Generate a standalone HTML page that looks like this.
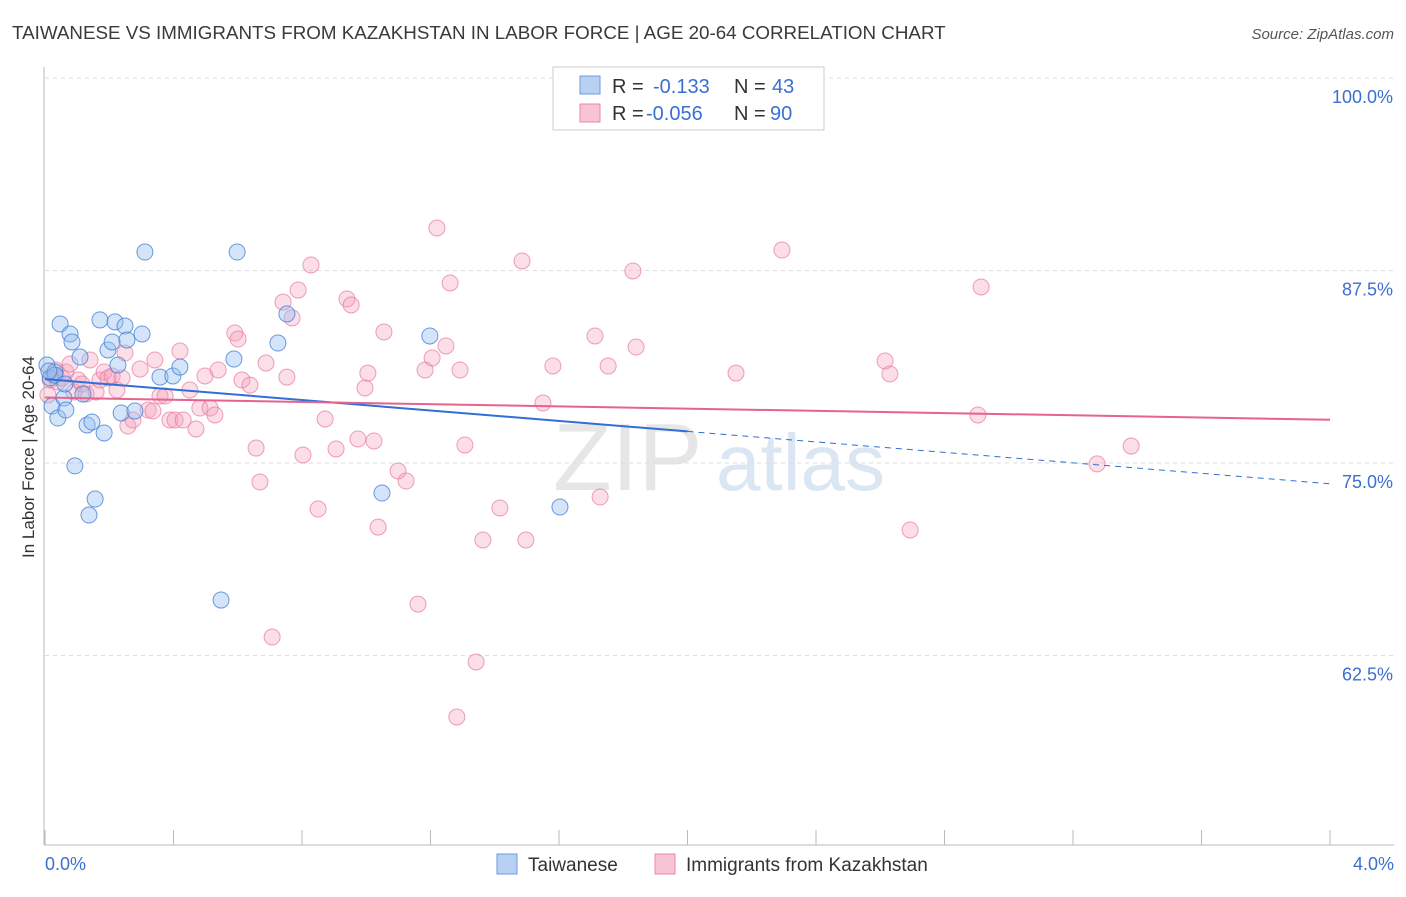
<!DOCTYPE html>
<html><head><meta charset="utf-8"><style>
body{margin:0;background:#fff;font-family:"Liberation Sans",sans-serif;}
svg text{font-family:"Liberation Sans",sans-serif;}
</style></head><body>
<svg id="c" width="1406" height="892">
<text x="12" y="39" font-size="18.8" fill="#3a3a3a">TAIWANESE VS IMMIGRANTS FROM KAZAKHSTAN IN LABOR FORCE | AGE 20-64 CORRELATION CHART</text>
<text x="1394" y="39" font-size="15" fill="#555" font-style="italic" text-anchor="end">Source: ZipAtlas.com</text>
<text x="553" y="490" font-size="96" fill="#e6e6e6" font-family="Liberation Serif">ZIP</text>
<text x="716" y="490" font-size="80" fill="#dbe6f3">atlas</text>
<g id="grid"></g>
<g id="axes"></g>
<g id="pts"></g>
<g id="trend"></g>
<text transform="translate(34,457) rotate(-90)" font-size="17" fill="#333" text-anchor="middle">In Labor Force | Age 20-64</text>
<text x="45" y="870" font-size="18" fill="#3b6fd1">0.0%</text>
<text x="1394" y="870" font-size="18" fill="#3b6fd1" text-anchor="end">4.0%</text>
<g>
<rect x="553" y="67" width="271" height="63" fill="#fff" stroke="#ccc"/>
<rect x="580" y="76" width="20" height="18" fill="#b8d1f3" stroke="#6b9be0"/>
<rect x="580" y="104" width="20" height="18" fill="#f8c3d4" stroke="#e98aa8"/>
<text x="612" y="93" font-size="20" fill="#333">R = </text><text x="653" y="93" font-size="20" fill="#3b6fd1">-0.133</text>
<text x="734" y="93" font-size="20" fill="#333">N = </text><text x="772" y="93" font-size="20" fill="#3b6fd1">43</text>
<text x="612" y="120" font-size="20" fill="#333">R = </text><text x="646" y="120" font-size="20" fill="#3b6fd1">-0.056</text>
<text x="734" y="120" font-size="20" fill="#333">N = </text><text x="770" y="120" font-size="20" fill="#3b6fd1">90</text>
</g>
<g>
<rect x="497" y="854" width="20" height="20" fill="#b8d1f3" stroke="#6b9be0"/>
<text x="528" y="871" font-size="19" fill="#333">Taiwanese</text>
<rect x="655" y="854" width="20" height="20" fill="#f8c3d4" stroke="#e98aa8"/>
<text x="686" y="871" font-size="19" fill="#333">Immigrants from Kazakhstan</text>
</g>
</svg>
<script>
const yTicks=[100,87.5,75,62.5];
const yTickLabels=["100.0%","87.5%","75.0%","62.5%"];
const xTicks=[0,0.4,0.8,1.2,1.6,2.0,2.4,2.8,3.2,3.6,4.0];
const taiwaneseX=[47,50,52,55,60,58,64,66,70,72,75,80,83,87,89,92,95,100,104,108,112,115,118,121,125,127,135,142,145,160,173,180,221,234,237,278,287,382,430,560,55,65,49].map(p=>+((p-45)/321.25).toFixed(3));
const taiwaneseY=[365,378,406,372,324,418,398,410,334,342,466,357,394,425,515,422,499,320,433,350,342,322,365,413,326,340,411,334,252,377,376,367,600,359,252,343,314,493,336,507,375,384,371].map(p=>+(100-(p-78)/15.4).toFixed(2));
const kazX=[48,50,53,56,58,62,66,70,74,78,82,86,90,96,100,104,108,112,117,122,125,128,133,140,148,153,155,160,165,170,175,180,183,190,196,200,205,210,215,218,235,238,242,250,256,260,266,272,283,287,292,298,303,311,318,325,336,347,351,358,365,368,374,378,384,398,406,418,425,432,437,446,450,457,460,465,476,483,500,522,526,543,553,595,600,608,633,636,736,782,885,890,910,978,981,1097,1131].map(p=>+((p-45)/321.25).toFixed(3));
const kazY=[395,380,375,370,382,378,372,364,392,380,384,394,360,392,380,372,378,376,390,378,353,426,420,369,410,411,360,396,396,420,420,351,420,390,429,408,376,408,415,370,333,339,380,385,448,482,363,637,302,377,318,290,455,265,509,419,449,299,305,439,388,373,441,527,332,471,481,604,370,358,228,346,283,717,370,445,662,540,508,261,540,403,366,336,497,366,271,347,373,250,361,374,530,415,287,464,446].map(p=>+(100-(p-78)/15.4).toFixed(2));
const trendBlue=[80.45,-1.7]; // intercept, slope per %
const trendPink=[79.25,-0.36];
const X=v=>45+v*321.25, Y=v=>78+(100-v)*15.4;
const NS="http://www.w3.org/2000/svg";
function mk(tag,attrs,parent){const e=document.createElementNS(NS,tag);for(const k in attrs)e.setAttribute(k,attrs[k]);document.getElementById(parent).appendChild(e);return e;}
yTicks.forEach((t,i)=>{
 const l=mk('line',{x1:45,x2:1394,y1:Y(t),y2:Y(t),stroke:'#ddd','stroke-dasharray':'4,4'},'grid');
 
 
 const tx=mk('text',{x:1393,y:Y(t)+25,'font-size':18,fill:'#3b6fd1','text-anchor':'end'},'grid');
 tx.textContent=yTickLabels[i];
 
 
});
const ax=mk('line',{x1:44,x2:44,y1:67,y2:845,stroke:'#bbb'},'axes');


const bx=mk('line',{x1:44,x2:1394,y1:845,y2:845,stroke:'#bbb'},'axes');


xTicks.forEach(t=>{
 const l=mk('line',{x1:X(t),x2:X(t),y1:830,y2:845,stroke:'#bbb'},'axes');
 
 
});
kazX.forEach((x,i)=>{
 const c=mk('circle',{cx:X(x),cy:Y(kazY[i]),r:8,fill:'rgba(244,160,188,0.35)',stroke:'rgba(232,120,155,0.7)','stroke-width':1},'pts');
 
 
});
taiwaneseX.forEach((x,i)=>{
 const c=mk('circle',{cx:X(x),cy:Y(taiwaneseY[i]),r:8,fill:'rgba(150,190,240,0.4)',stroke:'rgba(70,130,215,0.8)','stroke-width':1},'pts');
 
 
});
const f=(tr,x)=>tr[0]+tr[1]*x;
let l1=mk('line',{x1:X(0),y1:Y(f(trendBlue,0)),x2:X(2),y2:Y(f(trendBlue,2)),stroke:'#2f6fd6','stroke-width':2},'trend');


let l2=mk('line',{x1:X(2),y1:Y(f(trendBlue,2)),x2:X(4),y2:Y(f(trendBlue,4)),stroke:'#2f6fd6','stroke-width':1,'stroke-dasharray':'6,5'},'trend');


let l3=mk('line',{x1:X(0),y1:Y(f(trendPink,0)),x2:X(4),y2:Y(f(trendPink,4)),stroke:'#e5638c','stroke-width':2},'trend');


</script>
</body></html>
